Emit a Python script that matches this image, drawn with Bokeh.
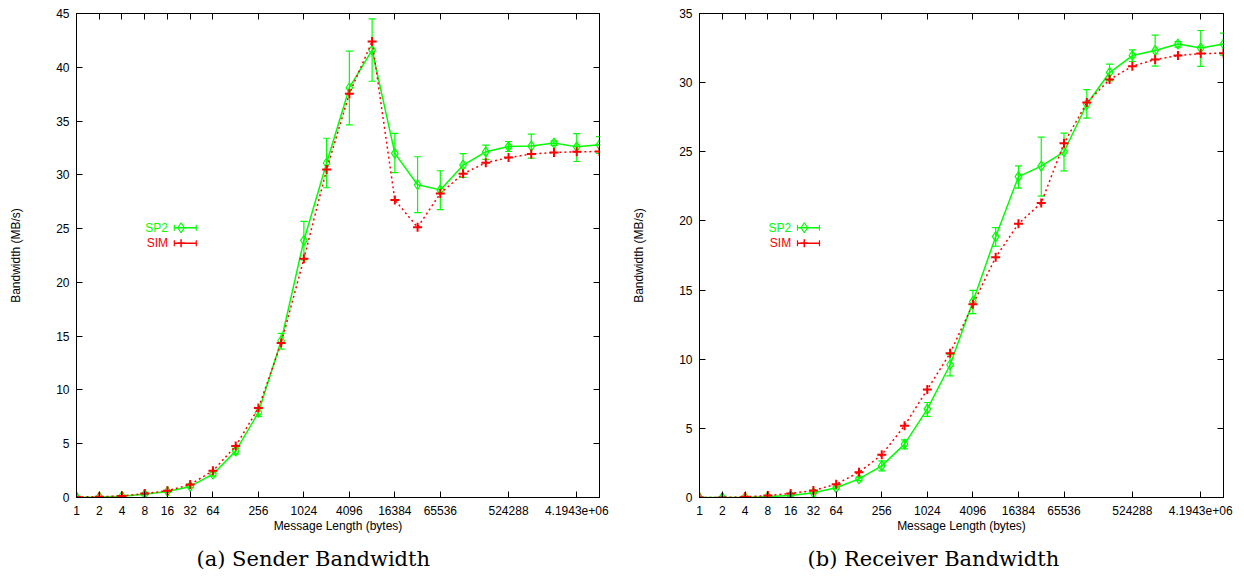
from bokeh.plotting import figure
from bokeh.layouts import row
from bokeh.models import (ColumnDataSource, Whisker, TeeHead, FixedTicker, LogAxis,
                          LinearAxis, Range1d, Label, Arrow, Title, CustomLabelingPolicy)
from bokeh.embed import file_html
from bokeh.resources import INLINE

# ---------------- data ----------------
msg_len = [2 ** i for i in range(24)]

tick_vals = [1, 2, 4, 8, 16, 32, 64, 256, 1024, 4096, 16384, 65536, 524288, 4194304]
tick_labels = ["1", "2", "4", "8", "16", "32", "64", "256", "1024", "4096", "16384",
               "65536", "524288", "4.1943e+06"]

# (a) Sender bandwidth
sp2_send = [0.02, 0.05, 0.12, 0.30, 0.56, 1.03, 2.17, 4.31, 7.90, 14.57, 23.9, 31.1,
            38.1, 41.6, 32.0, 29.08, 28.6, 30.9, 32.14, 32.63, 32.67, 32.95, 32.6, 32.79]
sp2_send_lo = [0.0, 0.03, 0.08, 0.24, 0.48, 0.92, 1.98, 4.05, 7.55, 13.8, 22.1, 28.8,
               34.65, 38.7, 30.2, 26.48, 26.76, 29.76, 31.43, 32.17, 31.56, 32.73, 31.24, 32.0]
sp2_send_hi = [0.05, 0.08, 0.16, 0.36, 0.64, 1.14, 2.36, 4.57, 8.25, 15.26, 25.67, 33.4,
               41.5, 44.5, 33.85, 31.68, 30.38, 31.98, 32.76, 33.1, 33.78, 33.16, 33.84, 33.56]
sim_send = [0.05, 0.07, 0.15, 0.37, 0.62, 1.21, 2.48, 4.78, 8.31, 14.36, 22.2, 30.5,
            37.55, 42.4, 27.66, 25.12, 28.27, 30.1, 31.12, 31.6, 31.93, 32.08, 32.14, 32.17]

# (b) Receiver bandwidth
sp2_recv = [0.0, 0.0, 0.02, 0.07, 0.14, 0.34, 0.70, 1.35, 2.29, 3.86, 6.39, 9.6,
            14.16, 18.86, 23.2, 23.96, 25.0, 28.44, 30.73, 31.96, 32.32, 32.79, 32.5, 32.79]
sp2_recv_lo = [0.0, 0.0, 0.0, 0.04, 0.10, 0.28, 0.60, 1.22, 1.93, 3.52, 5.86, 8.8,
               13.29, 18.17, 22.37, 21.79, 23.62, 27.43, 30.13, 31.53, 31.19, 32.57, 31.17, 31.99]
sp2_recv_hi = [0.02, 0.02, 0.05, 0.10, 0.18, 0.40, 0.80, 1.48, 2.65, 4.17, 6.87, 10.35,
               14.98, 19.52, 23.98, 26.06, 26.35, 29.5, 31.34, 32.37, 33.44, 32.97, 33.77, 33.58]
sim_recv = [0.0, 0.0, 0.05, 0.14, 0.29, 0.51, 0.96, 1.83, 3.09, 5.19, 7.81, 10.44,
            13.97, 17.37, 19.8, 21.3, 25.62, 28.56, 30.22, 31.19, 31.67, 31.96, 32.1, 32.13]

GREEN = "#00ff00"
RED = "#ff0000"
FONT = "Liberation Sans"
CAP_FONT = "DejaVu Serif"

X_EXP = 23
FRAME_TOP = 13.3
FRAME_H = 483.4

HIDE_LABELS_JS = """
for (let i = 0; i < indices.size; i++) { indices.unset(i) }
return indices
"""


def style_axis(ax):
    ax.major_tick_in = 6
    ax.major_tick_out = 0
    ax.minor_tick_in = 0
    ax.minor_tick_out = 0
    ax.axis_line_color = "black"
    ax.major_tick_line_color = "black"
    ax.major_label_text_font = FONT
    ax.major_label_text_font_size = "12px"
    ax.major_label_text_color = "black"
    ax.axis_label_text_font = FONT
    ax.axis_label_text_font_size = "12px"
    ax.axis_label_text_font_style = "normal"
    ax.axis_label_text_color = "black"


def make_panel(caption, sp2, lo, hi, sim, ymax, bl, br, cap_offset):
    p = figure(width=622, height=581, x_axis_type="log",
               x_range=Range1d(1, 2 ** X_EXP), y_range=Range1d(0, ymax),
               output_backend="svg", toolbar_location=None,
               min_border_left=bl, min_border_right=br,
               min_border_top=13, min_border_bottom=84)
    p.grid.visible = False
    p.outline_line_color = "black"
    p.outline_line_alpha = 1.0
    p.background_fill_color = "white"
    p.border_fill_color = "white"

    xt = FixedTicker(ticks=tick_vals, minor_ticks=[])
    yt = FixedTicker(ticks=list(range(0, ymax + 1, 5)), minor_ticks=[])
    overrides = {v: l for v, l in zip(tick_vals, tick_labels)}

    xa = p.xaxis[0]
    xa.ticker = xt
    xa.major_label_overrides = overrides
    xa.axis_label = "Message Length (bytes)"
    style_axis(xa)
    xa.major_label_standoff = 8
    xa.axis_label_standoff = 1

    ya = p.yaxis[0]
    ya.ticker = yt
    ya.axis_label = "Bandwidth (MB/s)"
    style_axis(ya)
    ya.major_label_standoff = 7
    ya.axis_label_standoff = 30

    # mirrored tick marks (gnuplot style), no labels
    top = LogAxis(ticker=FixedTicker(ticks=tick_vals, minor_ticks=[]))
    style_axis(top)
    top.major_label_policy = CustomLabelingPolicy(code=HIDE_LABELS_JS)
    top.major_label_standoff = 0
    p.add_layout(top, "above")

    right = LinearAxis(ticker=FixedTicker(ticks=list(range(0, ymax + 1, 5)), minor_ticks=[]))
    style_axis(right)
    right.major_label_policy = CustomLabelingPolicy(code=HIDE_LABELS_JS)
    right.major_label_standoff = 0
    p.add_layout(right, "right")

    src = ColumnDataSource(dict(x=msg_len, sp2=sp2, lo=lo, hi=hi, sim=sim))

    # SP2 (measured) with error bars
    p.add_layout(Whisker(base="x", lower="lo", upper="hi", source=src,
                         line_color=GREEN, line_width=1.2,
                         upper_head=TeeHead(size=7, line_color=GREEN, line_width=1.2),
                         lower_head=TeeHead(size=7, line_color=GREEN, line_width=1.2)))
    p.line("x", "sp2", source=src, line_color=GREEN, line_width=1.5)
    p.scatter("x", "sp2", source=src, marker="diamond", size=10, fill_color=None,
              line_color=GREEN, line_width=1.2)

    # SIM (simulated)
    p.line("x", "sim", source=src, line_color=RED, line_width=1.5, line_dash="2 3")
    p.scatter("x", "sim", source=src, marker="cross", size=9, line_color=RED, line_width=2)

    # key (gnuplot style: text left, sample right)
    def fx(frac):
        return 2 ** (X_EXP * frac)

    def fy(pix):
        return ymax * (1 - (pix - FRAME_TOP) / FRAME_H)

    for name, color, pix, mk in (("SP2", GREEN, 227.3, "diamond"), ("SIM", RED, 242.7, "cross")):
        p.add_layout(Label(x=fx(0.175), y=fy(pix), text=name, text_align="right",
                           text_baseline="middle", text_color=color, text_font=FONT,
                           text_font_size="12px"))
        p.add_layout(Arrow(start=TeeHead(size=6, line_color=color, line_width=1.2),
                           end=TeeHead(size=6, line_color=color, line_width=1.2),
                           x_start=fx(0.187), y_start=fy(pix), x_end=fx(0.229), y_end=fy(pix),
                           line_color=color, line_width=1.5))
        if mk == "diamond":
            p.scatter(x=[fx(0.2)], y=[fy(pix)], marker="diamond", size=10, fill_color=None,
                      line_color=color, line_width=1.2)
        else:
            p.scatter(x=[fx(0.2)], y=[fy(pix)], marker="cross", size=8, line_color=color,
                      line_width=1.5)

    p.add_layout(Title(text=caption, align="left", text_font=CAP_FONT,
                       text_font_size="21px", text_font_style="normal",
                       text_color="black", standoff=19, offset=cap_offset), "below")
    return p


p1 = make_panel("(a) Sender Bandwidth", sp2_send, sp2_send_lo, sp2_send_hi, sim_send,
                45, 76, 23, 120)
p2 = make_panel("(b) Receiver Bandwidth", sp2_recv, sp2_recv_lo, sp2_recv_hi, sim_recv,
                35, 77, 21, 108)

layout = row(p1, p2)
open("out.html", "w").write(file_html(layout, INLINE))
